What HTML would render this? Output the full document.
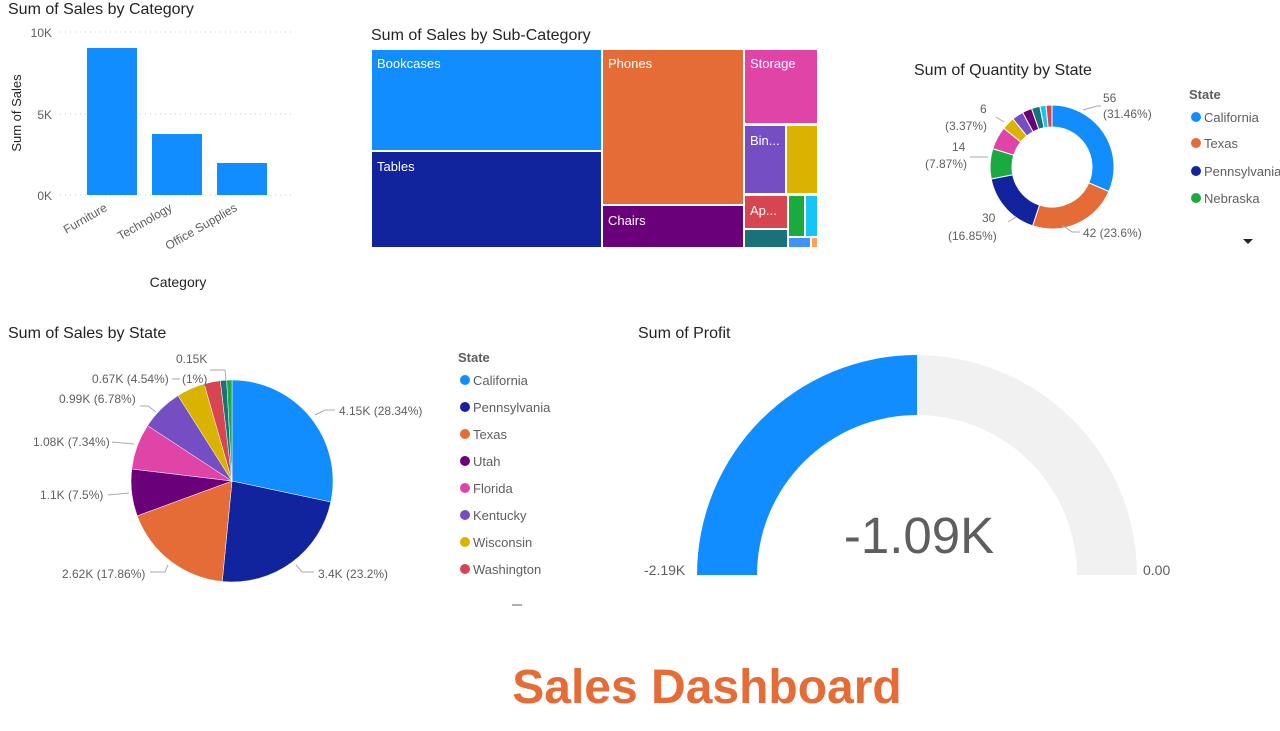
<!DOCTYPE html>
<html><head><meta charset="utf-8"><style>
body{margin:0;background:#fff;width:1280px;height:726px;overflow:hidden;font-family:"Liberation Sans",sans-serif;}
svg text{font-family:"Liberation Sans",sans-serif;}
</style></head><body>
<svg id="s" width="1280" height="726" xmlns="http://www.w3.org/2000/svg">
<text x="8" y="14" font-size="16" fill="#252423">Sum of Sales by Category</text>
<g font-size="12" fill="#605e5c" text-anchor="end">
<text x="52" y="37">10K</text><text x="52" y="119">5K</text><text x="52" y="200">0K</text></g>
<g stroke="#ccc" stroke-dasharray="1,4"><line x1="60" y1="32" x2="295" y2="32"/><line x1="60" y1="114" x2="295" y2="114"/><line x1="60" y1="195" x2="295" y2="195"/></g>
<rect x="87" y="48" width="50" height="147" fill="#118dff"/>
<rect x="152" y="134" width="50" height="61" fill="#118dff"/>
<rect x="217" y="163" width="50" height="32" fill="#118dff"/>
<g font-size="12" fill="#605e5c" text-anchor="end">
<text transform="translate(108,210) rotate(-30)">Furniture</text>
<text transform="translate(173,210) rotate(-30)">Technology</text>
<text transform="translate(238,210) rotate(-30)">Office Supplies</text></g>
<text transform="translate(21,113) rotate(-90)" font-size="13" fill="#252423" text-anchor="middle">Sum of Sales</text>
<text x="178" y="287" font-size="14" fill="#252423" text-anchor="middle">Category</text>
<text x="371" y="40" font-size="16" fill="#252423">Sum of Sales by Sub-Category</text>
<g>
<rect x="372" y="50" width="229" height="100" fill="#118dff"/>
<rect x="372" y="152" width="229" height="95" fill="#12239e"/>
<rect x="603" y="50" width="140" height="154" fill="#e66c37"/>
<rect x="603" y="206" width="140" height="41" fill="#6b007b"/>
<rect x="745" y="50" width="72" height="73" fill="#e044a7"/>
<rect x="745" y="126" width="40" height="67" fill="#744ec2"/>
<rect x="787" y="126" width="30" height="67" fill="#d9b300"/>
<rect x="745" y="196" width="42" height="32" fill="#d64550"/>
<rect x="745" y="230" width="42" height="17" fill="#197278"/>
<rect x="789" y="196" width="15" height="40" fill="#1aab40"/>
<rect x="806" y="196" width="11" height="40" fill="#15c6f4"/>
<rect x="789" y="238" width="21" height="9" fill="#4092ff"/>
<rect x="812" y="238" width="5" height="9" fill="#ffa058"/>
</g>
<g font-size="13" fill="#fff">
<text x="377" y="68">Bookcases</text><text x="377" y="171">Tables</text><text x="608" y="68">Phones</text>
<text x="608" y="225">Chairs</text><text x="750" y="68">Storage</text><text x="750" y="145">Bin...</text><text x="750" y="215">Ap...</text></g>
<text x="914" y="75" font-size="16" fill="#252423">Sum of Quantity by State</text>
<g id="donut"></g>
<g font-size="12" fill="#605e5c">
<text x="1103" y="102">56</text><text x="1103" y="118">(31.46%)</text>
<text x="1083" y="237">42 (23.6%)</text>
<text x="982" y="222">30</text><text x="948" y="240">(16.85%)</text>
<text x="952" y="151">14</text><text x="925" y="168">(7.87%)</text>
<text x="980" y="113">6</text><text x="945" y="130">(3.37%)</text></g>
<g stroke="#aaa" fill="none"><polyline points="1083,110 1097,106 1101,106"/><polyline points="1062,225 1072,232 1080,232"/><polyline points="1008,222 1016,217"/><polyline points="970,157 988,157"/><polyline points="996,117 1004,122"/></g>
<text x="1189" y="99" font-size="13" font-weight="bold" fill="#605e5c">State</text>
<g font-size="13" fill="#605e5c">
<circle cx="1196" cy="117" r="5" fill="#118dff"/><text x="1204" y="122">California</text>
<circle cx="1196" cy="143" r="5" fill="#e66c37"/><text x="1204" y="148">Texas</text>
<circle cx="1196" cy="171" r="5" fill="#12239e"/><text x="1204" y="176">Pennsylvania</text>
<circle cx="1196" cy="198" r="5" fill="#1aab40"/><text x="1204" y="203">Nebraska</text></g>
<polygon points="1243,239 1253,239 1248,244" fill="#252423"/>
<text x="8" y="338" font-size="16" fill="#252423">Sum of Sales by State</text>
<g id="pie"></g>
<g font-size="12" fill="#605e5c">
<text x="339" y="415">4.15K (28.34%)</text>
<text x="318" y="578">3.4K (23.2%)</text>
<text x="62" y="578">2.62K (17.86%)</text>
<text x="40" y="499">1.1K (7.5%)</text>
<text x="33" y="446">1.08K (7.34%)</text>
<text x="59" y="403">0.99K (6.78%)</text>
<text x="92" y="383">0.67K (4.54%)</text>
<text x="182" y="383">(1%)</text>
<text x="176" y="363">0.15K</text></g>
<g stroke="#aaa" fill="none"><polyline points="315,415 325,410 335,410"/><polyline points="296,565 302,572 314,572"/><polyline points="150,572 165,572 168,565"/><polyline points="108,495 129,493"/><polyline points="112,442 134,444"/><polyline points="140,406 148,406 156,412"/><polyline points="172,379 180,379"/><polyline points="210,370 225,370 226,380"/></g>
<text x="458" y="362" font-size="13" font-weight="bold" fill="#605e5c">State</text>
<g font-size="13" fill="#605e5c">
<circle cx="465" cy="380" r="5" fill="#118dff"/><text x="473" y="385">California</text>
<circle cx="465" cy="407" r="5" fill="#12239e"/><text x="473" y="412">Pennsylvania</text>
<circle cx="465" cy="434" r="5" fill="#e66c37"/><text x="473" y="439">Texas</text>
<circle cx="465" cy="461" r="5" fill="#6b007b"/><text x="473" y="466">Utah</text>
<circle cx="465" cy="488" r="5" fill="#e044a7"/><text x="473" y="493">Florida</text>
<circle cx="465" cy="515" r="5" fill="#744ec2"/><text x="473" y="520">Kentucky</text>
<circle cx="465" cy="542" r="5" fill="#d9b300"/><text x="473" y="547">Wisconsin</text>
<circle cx="465" cy="569" r="5" fill="#d64550"/><text x="473" y="574">Washington</text></g>
<line x1="512" y1="605" x2="522" y2="605" stroke="#605e5c"/>
<text x="638" y="338" font-size="16" fill="#252423">Sum of Profit</text>
<path d="M697,575 A220,220 0 0 1 1137,575 L1077,575 A160,160 0 0 0 757,575 Z" fill="#f1f1f1"/>
<path d="M697,575 A220,220 0 0 1 917,355 L917,415 A160,160 0 0 0 757,575 Z" fill="#118dff"/>
<text x="919" y="553" font-size="51" fill="#605e5c" text-anchor="middle">-1.09K</text>
<text x="644" y="575" font-size="14" fill="#605e5c">-2.19K</text>
<text x="1143" y="575" font-size="14" fill="#605e5c">0.00</text>
<text x="707" y="703" font-size="48" font-weight="bold" fill="#e66c37" text-anchor="middle">Sales Dashboard</text>
</svg>
<script>
function arcs(id,cx,cy,R,r,data){
 var g=document.getElementById(id),a=-Math.PI/2,h='';
 data.forEach(function(d){
  var b=a+d[0]/100*2*Math.PI,l=(b-a)>Math.PI?1:0;
  var p=function(rad,t){return (cx+rad*Math.cos(t)).toFixed(2)+','+(cy+rad*Math.sin(t)).toFixed(2);};
  var path=r>0?'M'+p(R,a)+'A'+R+','+R+' 0 '+l+' 1 '+p(R,b)+'L'+p(r,b)+'A'+r+','+r+' 0 '+l+' 0 '+p(r,a)+'Z'
   :'M'+cx+','+cy+'L'+p(R,a)+'A'+R+','+R+' 0 '+l+' 1 '+p(R,b)+'Z';
  h+='<path d="'+path+'" fill="'+d[1]+'" stroke="#fff" stroke-width="'+(r>0?1:0.5)+'"/>';
  a=b;});
 g.innerHTML=h;
}
arcs('donut',1052,167,62,40,[[31.46,'#118dff'],[23.6,'#e66c37'],[16.85,'#12239e'],[7.87,'#1aab40'],[6,'#e044a7'],[3.37,'#d9b300'],[3,'#744ec2'],[2.5,'#6b007b'],[2.2,'#197278'],[1.6,'#15c6f4'],[1.55,'#d64550']]);
arcs('pie',232,481,101,0,[[28.34,'#118dff'],[23.2,'#12239e'],[17.86,'#e66c37'],[7.5,'#6b007b'],[7.34,'#e044a7'],[6.78,'#744ec2'],[4.54,'#d9b300'],[2.6,'#d64550'],[1.0,'#197278'],[0.84,'#1aab40']]);
</script>
</body></html>
